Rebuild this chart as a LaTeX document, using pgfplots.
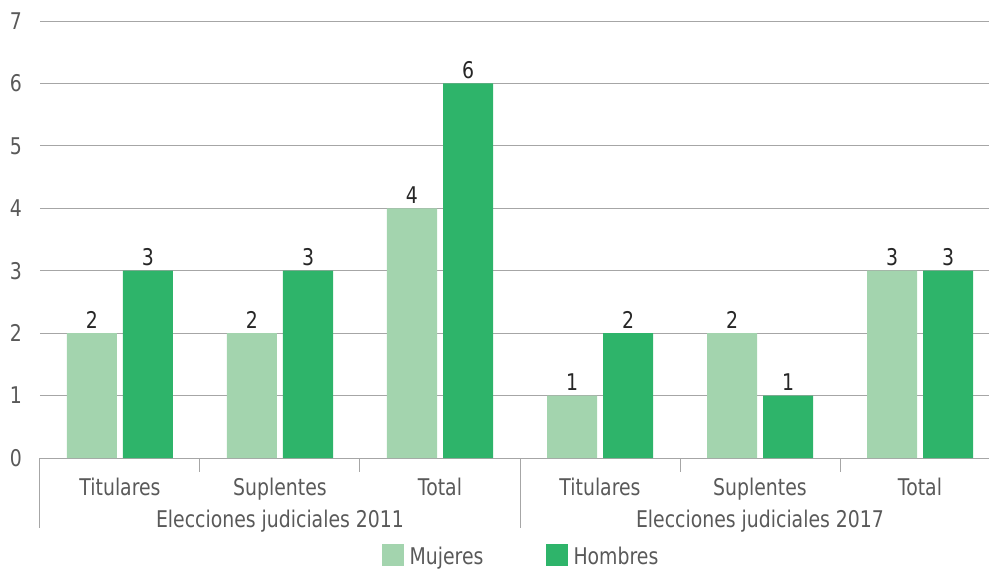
\documentclass[border=0pt]{standalone}
\usepackage{fontspec}
\setmainfont{DejaVu Sans}[FakeStretch=0.82]
\usepackage{pgfplots}
\pgfplotsset{compat=1.18}
\definecolor{muj}{HTML}{A3D4AE}
\definecolor{hom}{HTML}{2EB46A}
\definecolor{txt}{HTML}{595959}
\definecolor{labc}{HTML}{262626}
\definecolor{gridc}{HTML}{A6A6A6}
\begin{document}
\begin{tikzpicture}
\useasboundingbox (0,0) rectangle (989pt,571pt);
\clip (0,0) rectangle (989pt,571pt);
\begin{axis}[
  at={(40pt,113pt)}, anchor=south west,
  scale only axis, width=960pt, height=437pt,
  xmin=-0.5, xmax=5.5, ymin=0, ymax=7,
  enlarge x limits=false, enlarge y limits=false,
  ybar=6pt, bar width=50pt,
  xtick={0,...,5},
  xticklabels={Titulares,Suplentes,Total,Titulares,Suplentes,Total},
  ytick={0,...,7},
  axis x line*=bottom, axis y line*=left,
  y axis line style={draw=none},
  x axis line style={draw=gridc, line width=1pt, -},
  ymajorgrids, grid style={gridc, line width=0.8pt},
  major tick length=0pt,
  tick style={draw=none},
  tick label style={text=txt},
  yticklabel style={anchor=east, inner sep=0pt, xshift=-18pt},
  xticklabel style={anchor=base, inner sep=0pt, yshift=-37pt},
  /pgf/number format/assume math mode=true,
  font=\fontsize{23}{27}\selectfont,
  nodes near coords,
  every node near coord/.append style={text=labc, anchor=base, inner sep=0pt, yshift=5pt},
  clip=false,
  legend columns=2,
  legend style={at={(axis description cs:0.5,-0.2215)}, anchor=center,
    draw=none, fill=none, inner sep=0pt,
    nodes={text=txt, inner sep=0pt},
    /tikz/every odd column/.append style={column sep=6pt},
    /tikz/every even column/.append style={column sep=62pt}},
  legend image code/.code={\fill[#1, draw=none] (0pt,-9pt) rectangle (22pt,13pt);},
]
\addplot[fill=muj, draw=none] coordinates {(0,2) (1,2) (2,4) (3,1) (4,2) (5,3)};
\addplot[fill=hom, draw=none] coordinates {(0,3) (1,3) (2,6) (3,2) (4,1) (5,3)};
\legend{Mujeres, Hombres}
\draw[gridc, line width=1pt] (axis cs:-0.5,0) -- ([yshift=-70pt]axis cs:-0.5,0);
\draw[gridc, line width=1pt] (axis cs:2.5,0) -- ([yshift=-70pt]axis cs:2.5,0);
\draw[gridc, line width=1pt] (axis cs:5.5,0) -- ([yshift=-70pt]axis cs:5.5,0);
\draw[gridc, line width=1pt] (axis cs:0.5,0) -- ([yshift=-14pt]axis cs:0.5,0);
\draw[gridc, line width=1pt] (axis cs:1.5,0) -- ([yshift=-14pt]axis cs:1.5,0);
\draw[gridc, line width=1pt] (axis cs:3.5,0) -- ([yshift=-14pt]axis cs:3.5,0);
\draw[gridc, line width=1pt] (axis cs:4.5,0) -- ([yshift=-14pt]axis cs:4.5,0);
\node[anchor=base, text=txt, inner sep=0pt, yshift=-69pt] at (axis cs:1,0) {Elecciones judiciales 2011};
\node[anchor=base, text=txt, inner sep=0pt, yshift=-69pt] at (axis cs:4,0) {Elecciones judiciales 2017};
\end{axis}
\end{tikzpicture}
\end{document}
